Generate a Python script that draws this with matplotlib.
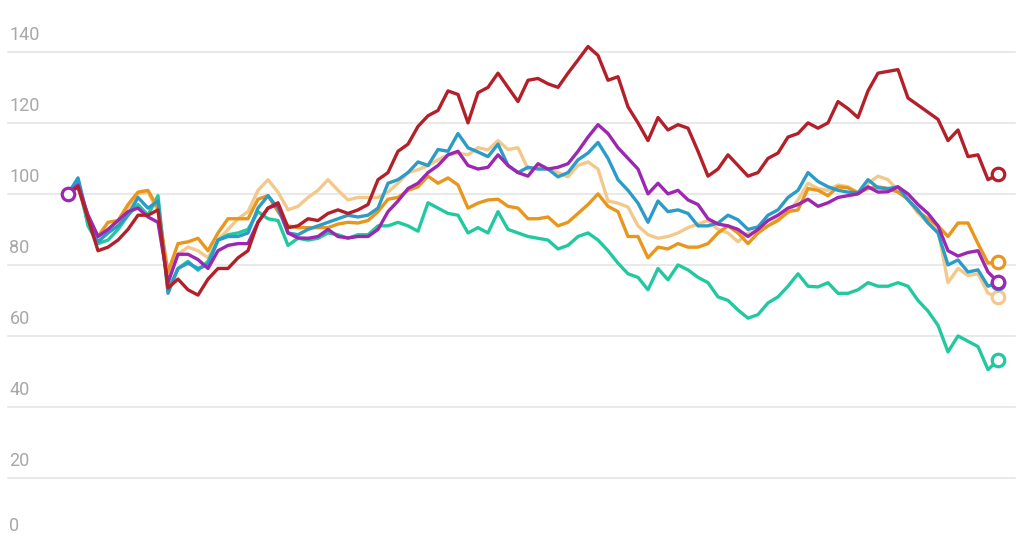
import matplotlib.pyplot as plt
import numpy as np

plt.rcParams['font.family'] = ['Roboto', 'DejaVu Sans']

# trading-day index (every ~2 days) and indexed values (start = 100)
days = np.arange(94)

red = [100, 102, 93, 84, 85, 87, 90, 94, 94, 95.5, 73.5, 76, 73, 71.5, 76, 79, 79, 82, 84, 92,
       96, 97.5, 90.5, 91, 93, 92.5, 94.5, 95.5, 94.5, 95.5, 97, 104, 106, 112, 114, 119, 122, 123.5, 129, 128,
       120, 128.5, 130, 134, 130, 126, 132, 132.5, 131, 130, 134, 137.7, 141.5, 139, 132, 133, 124.5, 120, 115, 121.5,
       118, 119.5, 118.5, 112, 105, 107, 111, 108, 105, 106, 110, 111.5, 116, 117, 120, 118.5, 120, 126, 124, 121.5,
       129, 134, 134.5, 135, 127, 125, 123, 121, 115, 118, 110.5, 111, 104, 105.5]

teal = [100, 104, 91, 86, 87, 90, 94, 97, 94, 99.5, 73, 79, 81, 78.5, 81, 87, 88.5, 89, 90, 95,
        93, 92.5, 85.5, 87.5, 87, 87.5, 89, 88.5, 87.5, 88.5, 88.5, 91, 91, 92, 91, 89.5, 97.5, 96, 94.5, 94,
        89, 90.5, 89, 95, 90, 89, 88, 87.5, 87, 84.5, 85.5, 88, 89, 87, 84, 80.5, 77.5, 76.5, 73, 79,
        75.8, 80, 78.6, 76.5, 75, 71, 70, 67.3, 65, 66, 69.3, 71, 74, 77.5, 74, 73.8, 75, 72, 72, 73,
        75, 74, 74, 75, 74, 70, 67, 63, 55.5, 60, 58.5, 57, 50.5, 53.2]

blue = [100, 104.5, 93, 86.5, 89, 91, 94, 99, 96, 98, 72, 79, 80.5, 79, 80, 87, 88, 88, 89, 96,
        99.5, 96, 89, 88.5, 90, 91, 92, 93, 94, 93.5, 94, 96, 103, 104, 106, 109, 108, 112.5, 112, 117,
        113, 111.8, 110.5, 114, 108, 106, 107.5, 107, 107, 104.8, 106, 109.6, 111.5, 114.5, 110, 104, 101, 97.4, 92, 98,
        95, 95.5, 94.5, 91, 91, 91.8, 94, 92.7, 90, 90.7, 94, 95.5, 99, 101, 106, 103.5, 102, 101, 100.5, 100.3,
        104, 101.7, 101.5, 102, 98.3, 95.5, 91.8, 89, 80, 81.4, 78, 78.6, 74, 75]

purple = [100, 102.5, 94, 88, 90, 92.5, 95, 96, 93.5, 92, 75, 83, 83, 81.5, 79, 84, 85.5, 86, 86, 92,
          96, 97, 89, 87.6, 87.5, 88, 90, 88, 87.6, 88, 88, 90, 95, 98, 101.5, 103, 106, 108, 111, 112,
          108, 107, 107.5, 111, 108, 106, 105, 108.5, 107, 107.5, 108.5, 112, 116, 119.5, 117, 113, 110, 107, 100, 103,
          100, 101, 98.3, 97, 93, 91.5, 91, 90, 88, 90, 92.5, 94, 96, 97, 98.5, 96.5, 97.5, 99, 99.5, 100,
          102, 100.5, 100.6, 102, 100, 97, 94.5, 91, 84, 82.5, 83.5, 84, 78, 75.2]

orange = [100, 102, 94, 88, 92, 92.5, 97, 100.5, 101, 96, 78, 86, 86.5, 87.5, 84, 89, 93, 93, 93, 98.5,
          99.5, 95, 91, 90.5, 90.5, 90.5, 90.5, 91.5, 92, 91.8, 92.5, 95, 98.5, 99, 101, 102, 105, 103, 104.5, 102.5,
          96, 97.4, 98.3, 98.5, 96.5, 96, 93, 93, 93.5, 91, 92, 94.5, 97, 100, 96.5, 95, 88, 88, 82, 85,
          84.5, 86, 85, 85, 86, 89, 91, 89, 86, 89, 91, 92.5, 95, 95.5, 101.5, 101, 99.5, 102, 101.7, 100.3,
          101.5, 102, 101.5, 100.5, 98.5, 95, 93, 91, 88, 91.8, 91.8, 86, 80.5, 80.8]

light_orange = [100, 102, 92, 86, 90, 92, 96, 100, 100.5, 95, 76, 83, 85, 84, 82, 87, 90, 93, 95, 101,
                104, 100.5, 95.5, 96.5, 99, 101, 104, 101, 98.3, 99, 99, 99, 100.5, 103, 106, 106.8, 108, 109.6, 111, 111.5,
                111, 113, 112.4, 115, 112.5, 113, 107, 107.6, 107, 106, 104.8, 108, 109, 107, 98, 97.4, 96.3, 91, 88.5, 87.5,
                88, 89, 90.5, 91.5, 92.5, 90, 89, 86.5, 89, 89.5, 91, 93, 94.6, 98.3, 103, 101.5, 101, 102.5, 102, 100.3,
                103, 105, 104, 101, 98.3, 94.6, 91.8, 90, 75, 79, 77, 77.5, 72, 71]

series = [
    (light_orange, '#f3c98b'),
    (teal, '#22c9a0'),
    (orange, '#e8961c'),
    (blue, '#2b9bc8'),
    (purple, '#9c27b0'),
    (red, '#b3202a'),
]
y_ticks = [0, 20, 40, 60, 80, 100, 120, 140]

fig = plt.figure(figsize=(10.24, 5.38), dpi=100)
ax = fig.add_axes([0, 0, 1, 1])
ax.set_xlim(-6.8, 95.6)
ax.set_ylim(3.1, 154.6)
ax.axis('off')

# gridlines with labels sitting above them
for v in y_ticks:
    ax.axhline(v, xmin=8 / 1024, xmax=1015 / 1024, color='#e3e3e3', lw=1.1, zorder=0)
    dy = 6 if v > 0 else 10  # keep the bottom label inside the frame
    ax.annotate(str(v), xy=(8 / 1024, v), xycoords=('axes fraction', 'data'),
                xytext=(1, dy), textcoords='offset points',
                ha='left', va='bottom', fontsize=13, color='#a8a8a8')

for vals, col in series:
    ax.plot(days, vals, color=col, lw=2.4, solid_joinstyle='round', zorder=2)
    ax.plot(days[-1], vals[-1], 'o', ms=9, mfc='white', mec=col, mew=2.3, zorder=3)

# start marker
ax.plot(days[0], purple[0], 'o', ms=9, mfc='white', mec='#9c27b0', mew=2.3, zorder=3)

fig.savefig('out.png', dpi=100)
